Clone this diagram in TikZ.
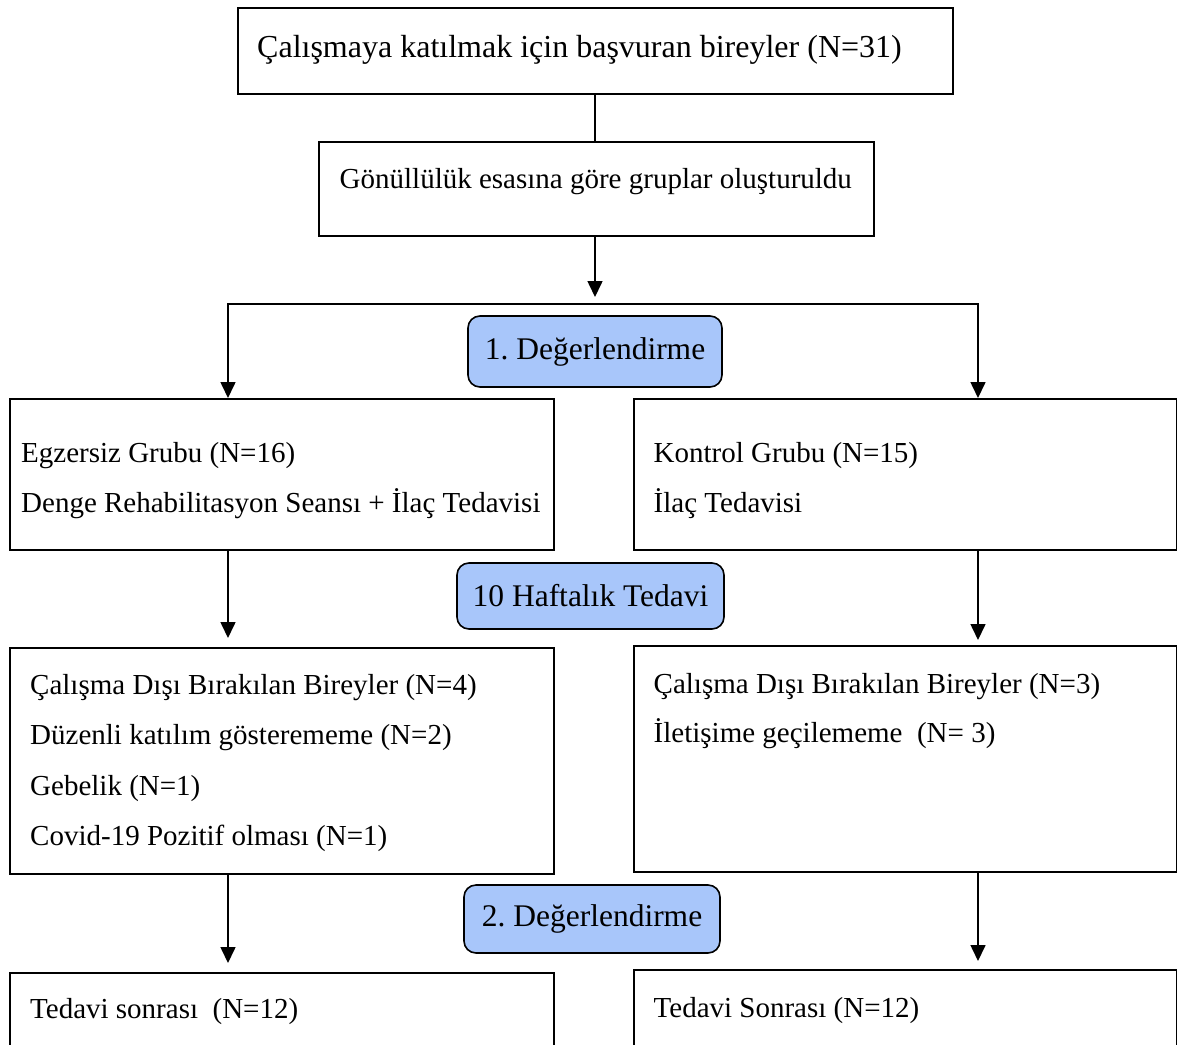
\documentclass[tikz,border=0pt]{standalone}
\usepackage{fontspec}
\setmainfont{Liberation Serif}
\usepackage{tikz}
\usetikzlibrary{positioning, arrows.meta, calc}
\definecolor{stagefill}{RGB}{168,198,250}
\frenchspacing

\begin{document}
\begin{tikzpicture}[x=1pt, y=1pt,
    box/.style={draw, line width=1.6pt, anchor=north west, inner sep=0pt},
    stage/.style={draw, line width=1.6pt, rounded corners=12pt, fill=stagefill,
        inner sep=0pt, font=\fontsize{31.5}{38}\selectfont},
    txt/.style={anchor=base west, inner sep=0pt, font=\fontsize{29}{35}\selectfont},
    link/.style={line width=1.6pt},
    arr/.style={line width=1.6pt, -{Triangle[length=16pt, width=15pt]}}]
            \clip (0,0) rectangle (1177,-1044);

            % top of the flow
            \node[box, minimum width=715, minimum height=86] (apply) at (237,-7) {};
            \node[txt, font=\fontsize{32}{38}\selectfont] (applyT) at (257,-57) {Çalışmaya katılmak için başvuran bireyler (N=31)};

            \node[box, minimum width=555, minimum height=94] (groups) at (318,-141) {};
            \node[txt] (groupsT) at (339.5,-188) {Gönüllülük esasına göre gruplar oluşturuldu};

            \node[stage, minimum width=254, minimum height=71] (eval1) at (595,-351.5) {1. Değerlendirme};

            % groups
            \node[box, minimum width=544, minimum height=151] (exer) at (9,-398) {};
            \node[txt] (exerA) at (21,-462) {Egzersiz Grubu (N=16)};
            \node[txt] (exerB) at (21,-512.5) {Denge Rehabilitasyon Seansı + İlaç Tedavisi};

            \node[box, minimum width=543, minimum height=151] (ctrl) at (633,-398) {};
            \node[txt] (ctrlA) at (653.5,-462.5) {Kontrol Grubu (N=15)};
            \node[txt] (ctrlB) at (653.5,-512) {İlaç Tedavisi};

            \node[stage, minimum width=267, minimum height=66] (weeks) at (590.5,-596) {10 Haftalık Tedavi};

            % drop outs
            \node[box, minimum width=544, minimum height=226] (dropL) at (9,-647) {};
            \node[txt] (dropLA) at (30,-694) {Çalışma Dışı Bırakılan Bireyler (N=4)};
            \node[txt] (dropLB) at (30,-744) {Düzenli katılım gösterememe (N=2)};
            \node[txt] (dropLC) at (30,-795) {Gebelik (N=1)};
            \node[txt] (dropLD) at (30,-845) {Covid-19 Pozitif olması (N=1)};

            \node[box, minimum width=543, minimum height=226] (dropR) at (633,-645) {};
            \node[txt] (dropRA) at (653.5,-693) {Çalışma Dışı Bırakılan Bireyler (N=3)};
            \node[txt] (dropRB) at (653.5,-742) {İletişime geçilememe~ (N= 3)};

            \node[stage, minimum width=256, minimum height=68] (eval2) at (592,-919) {2. Değerlendirme};

            % after treatment
            \node[box, minimum width=544, minimum height=110] (postL) at (9,-972) {};
            \node[txt] (postLT) at (30,-1018) {Tedavi sonrası~ (N=12)};

            \node[box, minimum width=543, minimum height=110] (postR) at (633,-969) {};
            \node[txt] (postRT) at (653.5,-1017) {Tedavi Sonrası (N=12)};

            % connectors
            \coordinate (split) at (595,-304);
            \coordinate (splitL) at (228,-304);
            \coordinate (splitR) at (978,-304);

            \draw[link] (apply.south -| split) -- (groups.north -| split);
            \draw[arr, shorten >=7pt] (groups.south -| split) -- (split);
            \draw[line width=1.6pt, {Triangle[length=16pt, width=15pt]}-{Triangle[length=16pt, width=15pt]}]
                (splitL |- exer.north) -- (splitL) -- (splitR) -- (splitR |- ctrl.north);
            \draw[arr, shorten >=9pt] (exer.south -| splitL) -- (dropL.north -| splitL);
            \draw[arr, shorten >=5pt] (ctrl.south -| splitR) -- (dropR.north -| splitR);
            \draw[arr, shorten >=9pt] (dropL.south -| splitL) -- (postL.north -| splitL);
            \draw[arr, shorten >=8pt] (dropR.south -| splitR) -- (postR.north -| splitR);
        \end{tikzpicture}
\end{document}
